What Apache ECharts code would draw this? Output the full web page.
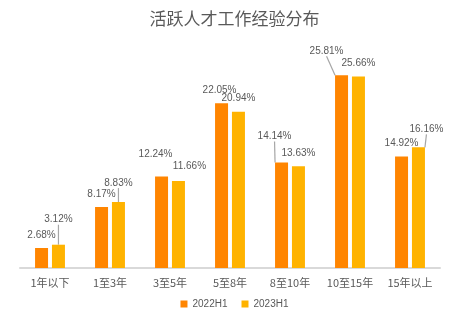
<!DOCTYPE html>
<html>
<head>
<meta charset="utf-8">
<script src="https://cdn.jsdelivr.net/npm/echarts@6/dist/echarts.min.js"></script>
<style>html,body{margin:0;padding:0;background:#fff;}#c{width:469px;height:322px;}</style>
</head>
<body>
<div id="c"></div>
<script>
const categories = ['1年以下', '1至3年', '3至5年', '5至8年', '8至10年', '10至15年', '15年以上'];
const series2022 = [2.68, 8.17, 12.24, 22.05, 14.14, 25.81, 14.92];
const series2023 = [3.12, 8.83, 11.66, 20.94, 13.63, 25.66, 16.16];
const seriesNames = ['2022H1', '2023H1'];

// label placement (dx, dy) per series, and which labels get leader lines
const labelShift = [
  [[0,0],[0,0],[-6,-9],[-2,0],[-7,-13],[-15,-11],[0,0]],
  [[0,-12],[0,-6],[11,-2],[0,0],[0,0],[0,0],[8,-5]]
];
const leader = [
  [false,false,false,false,true,true,false],
  [true,true,false,false,false,false,true]
];

const txt = '#595959';
function mk(vals, s) {
  return vals.map((v, i) => ({
    value: v,
    labelLine: { show: leader[s][i], lineStyle: { color: '#a6a6a6', width: 1.2 } }
  }));
}
const chart = echarts.init(document.getElementById('c'));
chart.setOption({
  animation: false,
  title: {
    text: '活跃人才工作经验分布',
    left: 'center', top: 5,
    textStyle: { fontSize: 17, fontWeight: 'normal', color: txt, fontFamily: 'Noto Sans CJK SC' }
  },
  legend: {
    bottom: 8, left: 'center',
    icon: 'rect', itemWidth: 7, itemHeight: 7, itemGap: 14,
    textStyle: { fontSize: 10, color: txt, fontFamily: 'Liberation Sans' }
  },
  grid: { left: 20, right: 29, top: 44, bottom: 54 },
  xAxis: {
    type: 'category', data: categories,
    axisLine: { lineStyle: { color: '#d9d9d9', width: 2 } },
    axisTick: { show: false },
    axisLabel: { interval: 0, fontSize: 11, color: txt, margin: 9, fontFamily: 'Noto Sans CJK SC' }
  },
  yAxis: { type: 'value', min: 0, max: 30, show: false, splitLine: { show: false } },
  labelLayout: function (p) {
    const sh = labelShift[p.seriesIndex][p.dataIndex];
    return { dx: sh[0], dy: sh[1] };
  },
  series: [series2022, series2023].map((vals, s) => ({
    name: seriesNames[s],
    type: 'bar',
    data: mk(vals, s),
    barWidth: 13,
    barGap: '30%',
    itemStyle: { color: s === 0 ? '#FF8500' : '#FFB300' },
    label: {
      show: true, position: 'top', distance: 8,
      formatter: p => p.value.toFixed(2) + '%',
      fontSize: 10, color: txt, fontFamily: 'Liberation Sans'
    }
  }))
});
</script>
</body>
</html>
